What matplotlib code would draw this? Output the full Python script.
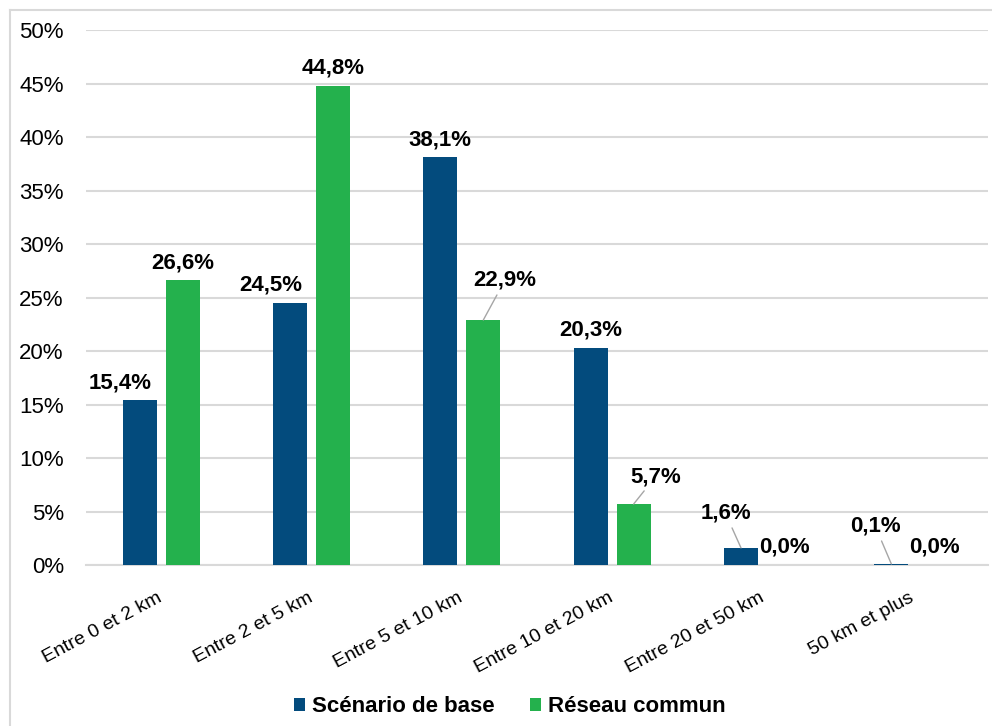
import numpy as np
import matplotlib
matplotlib.use("Agg")
import matplotlib.pyplot as plt
from matplotlib.patches import Patch
from matplotlib.lines import Line2D
from matplotlib.ticker import FuncFormatter

plt.rcParams['font.family'] = ['Liberation Sans', 'DejaVu Sans']

categories = ["Entre 0 et 2 km", "Entre 2 et 5 km", "Entre 5 et 10 km",
              "Entre 10 et 20 km", "Entre 20 et 50 km", "50 km et plus"]
series_names = ["Scénario de base", "Réseau commun"]
base = [15.4, 24.5, 38.1, 20.3, 1.6, 0.1]
reseau = [26.6, 44.8, 22.9, 5.7, 0.0, 0.0]
yticks = [0, 5, 10, 15, 20, 25, 30, 35, 40, 45, 50]

colors = ["#034B7D", "#24B14D"]
offsets = [-0.143, 0.143]
bar_w = 0.226

# label placement (pixels, dx, dy of baseline above bar top)
leader = {(1, 2): (21.5, 34), (1, 3): (22, 22), (0, 4): (-15.5, 29), (0, 5): (-16, 32)}
shifted = {(0, 0): (-19.5, 12), (0, 1): (-19, 12)}

W, H = 992, 726
fig = plt.figure(figsize=(W / 100, H / 100), dpi=100)
ax = fig.add_axes([86 / W, 1 - 565 / H, (988 - 86) / W, (565 - 30) / H])

x = np.arange(len(categories))
for si, vals in enumerate([base, reseau]):
    ax.bar(x + offsets[si], vals, width=bar_w, color=colors[si], zorder=3)
    for ci, v in enumerate(vals):
        txt = f"{v:.1f}".replace(".", ",") + "%"
        bx = x[ci] + offsets[si]
        if (si, ci) in leader:
            dx, dy = leader[(si, ci)]
            ax.annotate(txt, xy=(bx, v), xytext=(dx, dy), textcoords='offset pixels',
                        ha='center', va='baseline', fontsize=16, fontweight='bold',
                        color='black', zorder=5,
                        arrowprops=dict(arrowstyle='-', color='#A6A6A6', lw=1,
                                        shrinkA=1, shrinkB=0))
        else:
            dx, dy = shifted.get((si, ci), (0, 12))
            ax.annotate(txt, xy=(bx, v), xytext=(dx, dy), textcoords='offset pixels',
                        ha='center', va='baseline', fontsize=16, fontweight='bold',
                        color='black', zorder=5)

ax.set_xlim(-0.5, len(categories) - 0.5)
ax.set_ylim(0, 50)
ax.set_yticks(yticks)
ax.yaxis.set_major_formatter(FuncFormatter(lambda v, p: f"{v:.0f}%"))
ax.tick_params(axis='y', length=0, pad=16, labelsize=16)
ax.set_xticks(x)
ax.set_xticklabels(categories, rotation=28, ha='right', va='center', rotation_mode='anchor')
ax.tick_params(axis='x', length=0, pad=23, labelsize=14)
ax.grid(axis='y', color='#D9D9D9', lw=1.5, zorder=0)
for s in ['left', 'right', 'top']:
    ax.spines[s].set_visible(False)
ax.spines['bottom'].set_color('#D9D9D9')
ax.spines['bottom'].set_linewidth(1.5)
ax.spines['bottom'].set_zorder(1)

handles = [Patch(facecolor=colors[0], edgecolor='none'), Patch(facecolor=colors[1], edgecolor='none')]
fig.legend(handles, series_names, loc='center', bbox_to_anchor=(510 / W, 1 - 707 / H),
           ncol=2, frameon=False, prop={'size': 16, 'weight': 'bold'},
           handlelength=0.5, handleheight=0.5, handletextpad=0.3, columnspacing=1.6)

# outer border
fig.add_artist(Line2D([9.5 / W, 9.5 / W], [0, 1 - 9.5 / H], transform=fig.transFigure,
                      color='#D9D9D9', lw=1.5))
fig.add_artist(Line2D([9.5 / W, 1], [1 - 9.5 / H, 1 - 9.5 / H], transform=fig.transFigure,
                      color='#D9D9D9', lw=1.5))

fig.savefig("out.png", dpi=100)
